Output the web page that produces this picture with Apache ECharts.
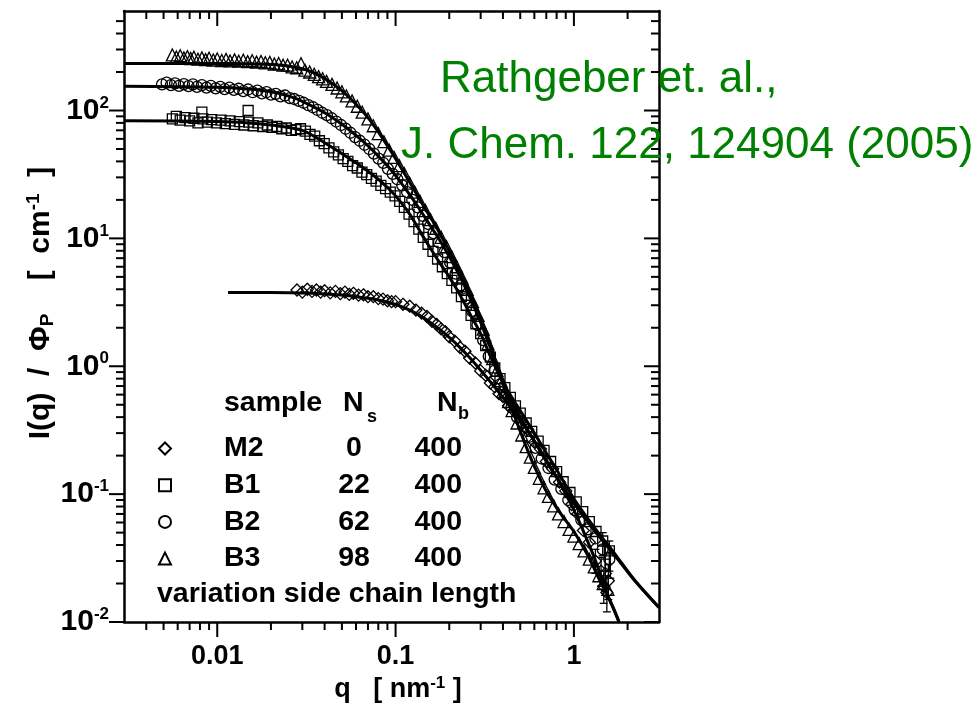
<!DOCTYPE html>
<html><head><meta charset="utf-8">
<script src="https://cdn.jsdelivr.net/npm/echarts@6/dist/echarts.min.js"></script>
<style>html,body{margin:0;padding:0;background:#fff}#c{width:980px;height:707px}</style>
</head><body><div id="c"></div>
<script>
const FONT = '"Liberation Sans", Arial, Helvetica, sans-serif';

// ---- legend table ----
const sampleNames = ['M2', 'B1', 'B2', 'B3'];
const sideChainNs = [0, 22, 62, 98];
const backboneNb = [400, 400, 400, 400];
const sampleSymbols = ['diamond', 'rect', 'circle', 'triangle'];

// ---- axes ----
const qMin = 0.003, qMax = 3, iMin = 0.01, iMax = 600;
const xTickLabels = { '-2': '0.01', '-1': '0.1', '0': '1' };
const xMajorTicks = [0.01, 0.1, 1];
const xMinorTicks = [0.004, 0.005, 0.006, 0.007, 0.008, 0.009, 0.02, 0.03, 0.04, 0.05, 0.06, 0.07, 0.08, 0.09,
  0.2, 0.3, 0.4, 0.5, 0.6, 0.7, 0.8, 0.9, 2];
const yMajorTicks = [0.01, 0.1, 1, 10, 100];
const yMinorTicks = [0.02, 0.03, 0.04, 0.05, 0.06, 0.07, 0.08, 0.09, 0.2, 0.3, 0.4, 0.5, 0.6, 0.7, 0.8, 0.9,
  2, 3, 4, 5, 6, 7, 8, 9, 20, 30, 40, 50, 60, 70, 80, 90, 200, 300, 400, 500];

// ---- measured data [q (nm^-1), I/Phi (cm^-1)] ----
const dataM2 = [[0.028,3.95],[0.03,3.8],[0.032,4.0],[0.034,3.85],[0.036,3.95],[0.038,3.8],[0.04,3.9],[0.043,3.75],
  [0.046,3.85],[0.049,3.7],[0.052,3.8],[0.055,3.65],[0.058,3.72],[0.062,3.6],[0.066,3.62],[0.07,3.5],[0.075,3.5],
  [0.08,3.38],[0.085,3.35],[0.09,3.25],[0.095,3.2],[0.1,3.2],[0.11,3.05],[0.12,2.95],[0.13,2.75],[0.14,2.6],
  [0.15,2.45],[0.16,2.25],[0.17,2.12],[0.18,1.96],[0.19,1.86],[0.2,1.7],[0.215,1.57],[0.23,1.4],[0.245,1.31],
  [0.26,1.16],[0.28,1.06],[0.3,0.92],[0.32,0.85],[0.34,0.74],[0.36,0.69],[0.38,0.61],[0.4,0.58],[0.43,0.49],
  [0.46,0.45],[0.5,0.37],[0.55,0.32],[0.6,0.255],[0.65,0.225],[0.7,0.18],[0.76,0.158],[0.83,0.124],[0.9,0.106],
  [0.97,0.083],[1.05,0.07],[1.13,0.052],[1.22,0.042],[1.32,0.03],[1.42,0.025],[1.47,0.019],[1.5,0.024],[1.53,0.017],[1.56,0.021]];
const dataB1 = [[0.0056,86],[0.0059,90],[0.0062,84],[0.0066,88],[0.007,83],[0.0074,87],[0.0078,80],[0.0082,97],
  [0.0083,86],[0.0088,81],[0.0093,85],[0.0099,80],[0.0105,84],[0.0111,79],[0.0118,83],[0.0125,78],[0.0133,82],
  [0.0141,77],[0.0149,100],[0.015,81],[0.0159,76],[0.0169,80],[0.018,75],[0.0191,77],[0.0203,74],[0.0216,75],
  [0.023,72],[0.0244,73],[0.026,70],[0.0276,71],[0.0293,72],[0.0312,69],[0.0331,65],[0.0352,63],[0.0374,58],
  [0.0398,55],[0.0423,51],[0.045,47.5],[0.0478,45],[0.0508,42],[0.054,40],[0.0574,37],[0.061,35.5],[0.0648,33],
  [0.0689,31.5],[0.0732,29.5],[0.0778,28],[0.0827,26],[0.0879,24.5],[0.0934,23],[0.0993,21.5],[0.1055,19.5],
  [0.112,17.5],[0.119,15.5],[0.127,13.5],[0.135,11.8],[0.143,10.2],[0.152,9.0],[0.162,7.9],[0.172,6.9],[0.183,6.0],
  [0.195,5.3],[0.207,4.7],[0.22,4.1],[0.234,3.5],[0.249,3.0],[0.265,2.5],[0.282,2.15],[0.3,1.8],[0.32,1.45],
  [0.34,1.18],[0.36,0.97],[0.385,0.8],[0.41,0.68],[0.44,0.57],[0.47,0.49],[0.5,0.43],[0.54,0.36],[0.58,0.31],
  [0.63,0.26],[0.68,0.22],[0.74,0.18],[0.8,0.15],[0.87,0.125],[0.95,0.103],[1.03,0.087],[1.12,0.073],[1.22,0.061],
  [1.33,0.051],[1.45,0.043],[1.58,0.036]];
const dataB2 = [[0.0049,160],[0.0052,165],[0.0055,158],[0.0058,163],[0.0061,156],[0.0065,161],[0.0069,155],[0.0073,160],
  [0.0077,153],[0.0082,158],[0.0087,151],[0.0092,156],[0.0098,149],[0.0104,153],[0.011,147],[0.0117,151],[0.0124,145],
  [0.0132,148],[0.014,142],[0.0149,146],[0.0158,139],[0.0168,143],[0.0178,136],[0.0189,139],[0.02,133],[0.0213,135],
  [0.0226,129],[0.024,131],[0.0255,125],[0.027,123],[0.0287,119],[0.0305,115],[0.0324,110],[0.0344,106],[0.0365,101],
  [0.0388,96],[0.0412,92],[0.0438,87],[0.0465,82],[0.0494,77],[0.0525,72],[0.0558,67],[0.0593,62],[0.063,58],
  [0.067,54],[0.0712,50],[0.0756,46],[0.0803,42],[0.0853,39],[0.0906,35],[0.0963,32],[0.1023,29],[0.109,26],
  [0.116,23],[0.124,20],[0.133,17.5],[0.142,15],[0.152,13],[0.163,11],[0.175,9.3],[0.188,7.8],[0.202,6.5],
  [0.217,5.3],[0.233,4.3],[0.25,3.4],[0.268,2.7],[0.288,2.1],[0.31,1.6],[0.333,1.2],[0.358,0.92],[0.385,0.72],
  [0.415,0.58],[0.447,0.48],[0.48,0.4],[0.52,0.34],[0.56,0.28],[0.61,0.23],[0.66,0.19],[0.72,0.16],[0.78,0.13],
  [0.85,0.11],[0.93,0.09],[1.01,0.075],[1.1,0.063],[1.2,0.053],[1.32,0.045],[1.45,0.037],[1.58,0.031]];
const dataB3 = [[0.0056,272],[0.0059,262],[0.0062,268],[0.0065,258],[0.0068,264],[0.0071,255],[0.0074,261],[0.0078,252],
  [0.0082,258],[0.0086,250],[0.009,256],[0.0095,248],[0.01,253],[0.0106,246],[0.0112,251],[0.0118,244],[0.0125,249],
  [0.0132,243],[0.014,247],[0.0148,241],[0.0157,245],[0.0166,239],[0.0176,242],[0.0186,236],[0.0197,238],[0.0209,231],
  [0.0221,233],[0.0234,226],[0.0248,226],[0.0263,219],[0.0279,216],[0.0295,232],[0.031,207],[0.033,200],[0.035,192],
  [0.037,184],[0.039,177],[0.041,169],[0.044,160],[0.047,150],[0.05,140],[0.053,130],[0.057,119],[0.061,108],
  [0.065,97],[0.07,86],[0.075,76],[0.08,66],[0.086,57],[0.092,49],[0.098,43],[0.105,37],[0.112,32],[0.12,27],
  [0.128,23],[0.137,19.5],[0.147,16.5],[0.157,14],[0.168,12],[0.18,10.2],[0.193,8.6],[0.206,7.2],[0.22,6.0],
  [0.236,4.9],[0.252,4.0],[0.27,3.2],[0.29,2.5],[0.31,1.95],[0.33,1.5],[0.35,1.15],[0.37,0.93],[0.39,0.77],
  [0.41,0.63],[0.43,0.53],[0.45,0.45],[0.48,0.36],[0.51,0.29],[0.54,0.235],[0.57,0.195],[0.6,0.162],[0.64,0.133],
  [0.68,0.112],[0.72,0.096],[0.77,0.081],[0.82,0.07],[0.88,0.061],[0.94,0.053],[1.0,0.047],[1.07,0.041],[1.14,0.036],
  [1.22,0.031],[1.3,0.027],[1.38,0.023],[1.46,0.02],[1.55,0.018]];
// error bars at high q: [q, lower, upper]
const errorBars = [[1.32,0.024,0.037],[1.42,0.019,0.032],[1.47,0.014,0.025],[1.5,0.018,0.031],[1.53,0.012,0.023],
  [1.56,0.015,0.028],[1.45,0.033,0.05],[1.58,0.025,0.043],[1.6,0.022,0.035],[1.5,0.025,0.04]];

// ---- model fits ----
const fitM2 = [[0.0115,3.78],[0.02,3.77],[0.03,3.74],[0.04,3.68],[0.05,3.6],[0.06,3.5],[0.07,3.4],[0.08,3.3],[0.1,3.05],
  [0.12,2.75],[0.14,2.45],[0.16,2.15],[0.18,1.9],[0.2,1.68],[0.23,1.4],[0.26,1.17],[0.3,0.93],[0.35,0.72],[0.4,0.57],
  [0.45,0.46],[0.5,0.38],[0.6,0.26],[0.7,0.185],[0.8,0.135],[0.9,0.1],[1.0,0.075],[1.1,0.056],[1.2,0.042],[1.3,0.032],
  [1.4,0.024],[1.5,0.018],[1.6,0.0145],[1.7,0.012],[1.79,0.01]];
const fitB1 = [[0.003,83],[0.01,82],[0.015,80],[0.02,77],[0.03,70],[0.04,56],[0.05,46],[0.06,39],[0.07,33.5],[0.08,29],
  [0.09,25],[0.1,21.5],[0.12,15.5],[0.14,10.8],[0.16,8.0],[0.18,6.2],[0.2,5.0],[0.23,3.6],[0.26,2.6],[0.3,1.8],
  [0.34,1.2],[0.38,0.86],[0.42,0.66],[0.46,0.54],[0.5,0.45],[0.6,0.3],[0.7,0.21],[0.8,0.155],[1.0,0.092],[1.3,0.055],
  [1.7,0.034],[2.2,0.021],[3,0.013]];
const fitB2 = [[0.003,155],[0.01,152],[0.015,147],[0.02,140],[0.025,130],[0.03,118],[0.04,96],[0.05,78],[0.06,64],
  [0.07,53],[0.08,44],[0.09,37],[0.1,31],[0.12,22],[0.14,16],[0.16,12],[0.18,9.3],[0.2,7.2],[0.23,5.0],[0.26,3.5],
  [0.3,2.2],[0.34,1.4],[0.38,0.93],[0.42,0.66],[0.46,0.5],[0.5,0.4],[0.6,0.26],[0.7,0.18],[0.8,0.135],[1.0,0.085],
  [1.3,0.052],[1.7,0.033],[2.2,0.021],[3,0.013]];
const fitB3 = [[0.003,233],[0.01,233],[0.015,232],[0.02,229],[0.025,223],[0.03,212],[0.035,197],[0.04,178],[0.05,143],
  [0.06,112],[0.07,88],[0.08,68],[0.09,53],[0.1,42],[0.12,27.5],[0.14,19],[0.16,14],[0.18,10.5],[0.2,8.0],[0.23,5.5],
  [0.26,3.8],[0.3,2.4],[0.34,1.5],[0.37,1.0],[0.4,0.72],[0.45,0.46],[0.5,0.31],[0.55,0.22],[0.6,0.165],[0.7,0.105],
  [0.8,0.078],[0.9,0.062],[1.0,0.051],[1.2,0.033],[1.4,0.021],[1.6,0.0145],[1.79,0.01]];

const sampleData = [dataM2, dataB1, dataB2, dataB3];
const sampleSizes = [12, 10, 11, 12];
const fits = [fitM2, fitB1, fitB2, fitB3];

const chart = echarts.init(document.getElementById('c'), null, { renderer: 'canvas' });

const axisLineStyle = { lineStyle: { color: '#000', width: 2.5 } };
function baseX(pos, labels) {
  return {
    type: 'log', logBase: 10, min: qMin, max: qMax, position: pos,
    axisLine: { show: true, onZero: false, ...axisLineStyle }, axisTick: { show: false }, splitLine: { show: false },
    axisLabel: labels ? {
      show: true, margin: 21, color: '#000', fontFamily: FONT, fontWeight: 'bold', fontSize: 27,
      showMinLabel: false, showMaxLabel: false,
      formatter: v => { const e = Math.round(Math.log10(v)); return Math.abs(Math.log10(v) - e) < 1e-6 && xTickLabels[e] ? xTickLabels[e] : ''; }
    } : { show: false }
  };
}
function baseY(pos, labels) {
  return {
    type: 'log', logBase: 10, min: iMin, max: iMax, position: pos,
    axisLine: { show: true, onZero: false, ...axisLineStyle }, axisTick: { show: false }, splitLine: { show: false },
    axisLabel: labels ? {
      show: true, margin: 15, color: '#000', showMaxLabel: false,
      formatter: v => { const e = Math.round(Math.log10(v)); if (Math.abs(Math.log10(v) - e) > 1e-6) return ''; return '{b|10}{s|' + e + '}'; },
      rich: {
        b: { fontFamily: FONT, fontWeight: 'bold', fontSize: 30, color: '#000', lineHeight: 32 },
        s: { fontFamily: FONT, fontWeight: 'bold', fontSize: 17, color: '#000', lineHeight: 17, verticalAlign: 'top' }
      }
    } : { show: false }
  };
}

const tickData = [];
xMajorTicks.forEach(v => tickData.push([v, 1, 0, 1]));
xMinorTicks.forEach(v => tickData.push([v, 1, 0, 0]));
yMajorTicks.forEach(v => tickData.push([0.1, v, 1, 1]));
yMinorTicks.forEach(v => tickData.push([0.1, v, 1, 0]));

const series = [];
sampleNames.forEach((n, i) => {
  series.push({
    name: n, type: 'scatter', data: sampleData[i], symbol: sampleSymbols[i], symbolSize: sampleSizes[i],
    itemStyle: { color: 'rgba(255,255,255,0)', borderColor: '#000', borderWidth: 1.3, opacity: 1 },
    z: 2, silent: true
  });
});
series.push({
  type: 'custom', name: 'error bars', data: errorBars, silent: true, z: 2,
  encode: { x: 0, y: [1, 2] },
  renderItem(params, api) {
    const lo = api.coord([api.value(0), api.value(1)]), hi = api.coord([api.value(0), api.value(2)]);
    const st = { stroke: '#000', lineWidth: 1.3 };
    return { type: 'group', children: [
      { type: 'line', shape: { x1: lo[0], y1: lo[1], x2: hi[0], y2: hi[1] }, style: st },
      { type: 'line', shape: { x1: lo[0] - 4, y1: lo[1], x2: lo[0] + 4, y2: lo[1] }, style: st },
      { type: 'line', shape: { x1: hi[0] - 4, y1: hi[1], x2: hi[0] + 4, y2: hi[1] }, style: st }] };
  }
});
fits.forEach((f, i) => {
  series.push({
    name: 'fit ' + sampleNames[i], type: 'line', data: f, showSymbol: false, smooth: 0.3,
    lineStyle: { color: '#000', width: 3 }, z: 3, silent: true
  });
});
series.push({
  type: 'custom', name: 'ticks', data: tickData, clip: false, silent: true, z: 10,
  encode: { x: 0, y: 1 },
  renderItem(params, api) {
    const isY = api.value(2) === 1, L = api.value(3) === 1 ? 15 : 8;
    const st = { stroke: '#000', lineWidth: 2 };
    if (!isY) {
      const q = api.value(0);
      const b = api.coord([q, iMin]), t = api.coord([q, iMax]);
      return { type: 'group', children: [
        { type: 'line', shape: { x1: b[0], y1: b[1], x2: b[0], y2: b[1] + L }, style: st },
        { type: 'line', shape: { x1: t[0], y1: t[1], x2: t[0], y2: t[1] + L }, style: st }] };
    }
    const v = api.value(1);
    const l = api.coord([qMin, v]), r = api.coord([qMax, v]);
    return { type: 'group', children: [
      { type: 'line', shape: { x1: l[0] - L, y1: l[1], x2: l[0], y2: l[1] }, style: st },
      { type: 'line', shape: { x1: r[0] - L, y1: r[1], x2: r[0], y2: r[1] }, style: st }] };
  }
});

const LS = 28.5;
const boldText = (txt, x, y, size, extra) => ({
  type: 'text', x, y, silent: true, z: 20,
  style: Object.assign({ text: txt, fill: '#000', font: `bold ${size}px ${FONT}`, align: 'left', verticalAlign: 'middle' }, extra || {})
});

chart.setOption({
  animation: false,
  backgroundColor: '#fff',
  grid: { left: 124, right: 321, top: 11, bottom: 85 },
  xAxis: [baseX('bottom', true), baseX('top', false)],
  yAxis: [baseY('left', true), baseY('right', false)],
  legend: {
    data: sampleNames, orient: 'vertical', left: 153, top: 429, itemWidth: 12, itemHeight: 12, itemGap: 7.7,
    selectedMode: false,
    textStyle: {
      fontFamily: FONT, fontWeight: 'bold', fontSize: LS, color: '#000', lineHeight: 29,
      rich: {
        n: { fontFamily: FONT, fontWeight: 'bold', fontSize: LS, color: '#000', width: 100, padding: [0, 0, 0, 48] },
        s: { fontFamily: FONT, fontWeight: 'bold', fontSize: LS, color: '#000', width: 60, align: 'center' },
        b: { fontFamily: FONT, fontWeight: 'bold', fontSize: LS, color: '#000', width: 78, align: 'right' }
      }
    },
    formatter: name => { const i = sampleNames.indexOf(name); return `{n|${name}}{s|${sideChainNs[i]}}{b|${backboneNb[i]}}`; }
  },
  graphic: [
    boldText('sample', 224, 403, LS),
    boldText('N', 343, 403, LS), boldText('s', 367, 417, 18),
    boldText('N', 437, 403, LS), boldText('b', 458, 414, 18),
    boldText('variation side chain length', 157, 594, LS),
    { type: 'text', x: 398, y: 690, silent: true, z: 20,
      style: { text: '{a|q   [ nm}{s|-1}{a| ]}', align: 'center', verticalAlign: 'middle',
        rich: { a: { fontFamily: FONT, fontWeight: 'bold', fontSize: 27, fill: '#000', lineHeight: 30 },
                s: { fontFamily: FONT, fontWeight: 'bold', fontSize: 17, fill: '#000', lineHeight: 17, verticalAlign: 'top' } } } },
    { type: 'text', x: 41, y: 303, rotation: Math.PI / 2, silent: true, z: 20,
      style: { text: '{a|I(q)  /  Φ}{p|P}{a|    [  cm}{s|-1}{a|  ]}', align: 'center', verticalAlign: 'middle',
        rich: { a: { fontFamily: FONT, fontWeight: 'bold', fontSize: 30, fill: '#000', lineHeight: 33 },
                p: { fontFamily: FONT, fontWeight: 'bold', fontSize: 19, fill: '#000', lineHeight: 19, verticalAlign: 'bottom' },
                s: { fontFamily: FONT, fontWeight: 'bold', fontSize: 19, fill: '#000', lineHeight: 19, verticalAlign: 'top' } } } },
    { type: 'text', x: 440, y: 80, silent: true, z: 20,
      style: { text: 'Rathgeber et. al.,', fill: '#008000', font: `44px ${FONT}`, align: 'left', verticalAlign: 'middle' } },
    { type: 'text', x: 401, y: 146, silent: true, z: 20,
      style: { text: 'J. Chem. 122, 124904 (2005)', fill: '#008000', font: `44px ${FONT}`, align: 'left', verticalAlign: 'middle' } }
  ],
  series
});
</script></body></html>
